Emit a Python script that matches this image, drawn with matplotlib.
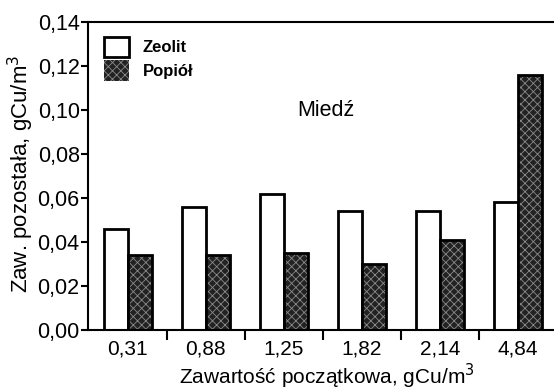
import matplotlib
matplotlib.use("Agg")
import matplotlib.pyplot as plt
import numpy as np
from matplotlib.patches import Patch

plt.rcParams['font.family'] = ['Liberation Sans', 'DejaVu Sans']
plt.rcParams['hatch.linewidth'] = 0.6

categories = ['0,31', '0,88', '1,25', '1,82', '2,14', '4,84']
zeolit = [0.046, 0.056, 0.062, 0.054, 0.054, 0.058]
popiol = [0.034, 0.034, 0.035, 0.030, 0.041, 0.116]
yticks = [0.00, 0.02, 0.04, 0.06, 0.08, 0.10, 0.12, 0.14]
ytick_labels = ['0,00', '0,02', '0,04', '0,06', '0,08', '0,10', '0,12', '0,14']

fig = plt.figure(figsize=(5.54, 3.90), dpi=100)
ax = fig.add_axes([88/554, 1-330/390, 1-88/554, (330-22)/390])

x = np.arange(len(categories))
w = 0.31
ax.bar(x - w/2, zeolit, w, facecolor='white', edgecolor='black', linewidth=2.0)
ax.bar(x + w/2, popiol, w, facecolor='#222222', edgecolor='#8a8a8a', linewidth=0, hatch='xxxx')
ax.bar(x + w/2, popiol, w, facecolor='none', edgecolor='black', linewidth=2.0)

ax.set_xlim(-0.51, 5.46)
ax.set_ylim(0, 0.14)
ax.set_yticks(yticks)
ax.set_yticklabels(ytick_labels, fontsize=15.5)
ax.set_xticks(x)
ax.set_xticklabels(categories, fontsize=15)
ax.tick_params(axis='x', length=0, pad=7)
ax.set_xticks(x[:-1] + 0.5, minor=True)
ax.tick_params(axis='x', which='minor', length=7, width=1.5, direction='out')
ax.tick_params(axis='y', length=5, width=1.5, direction='out', pad=1)

for s in ['left', 'bottom', 'top']:
    ax.spines[s].set_linewidth(1.5)
ax.spines['right'].set_visible(False)

fig.text(327/554, 1-384/390, 'Zawartość początkowa, gCu/m$^3$', fontsize=15,
         ha='center', va='baseline')
ax.set_ylabel('Zaw. pozostała, gCu/m$^3$', fontsize=16, labelpad=0)
ax.yaxis.set_label_coords(-52/466, (330-174)/308)

ax.text(2.54, 0.100, 'Miedź', fontsize=15.5, ha='center', va='center')

handles = [Patch(facecolor='white', edgecolor='black', linewidth=2.0),
           Patch(facecolor='#222222', edgecolor='#8a8a8a', hatch='xxxx', linewidth=0)]
leg = ax.legend(handles, ['Zeolit', 'Popiół'], loc='upper left', frameon=False,
                prop={'size': 12, 'weight': 'bold'}, handlelength=1.5, handleheight=1.5,
                bbox_to_anchor=(0.021, 0.974), borderaxespad=0,
                labelspacing=0.2, handletextpad=0.8)

fig.savefig('out.png', dpi=100)
